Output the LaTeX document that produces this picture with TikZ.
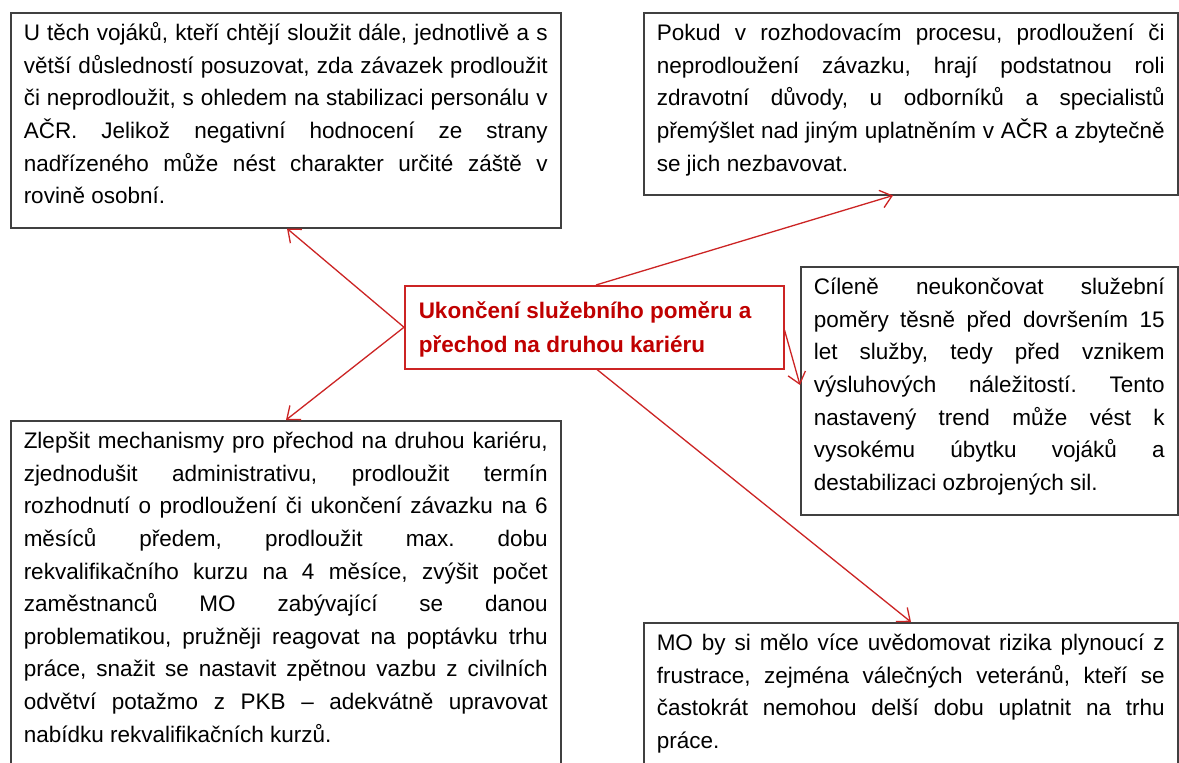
\documentclass[tikz,border=0pt]{standalone}
\usepackage{fontspec}
\setmainfont{Liberation Sans}
\usetikzlibrary{arrows.meta,calc}
\definecolor{boxgray}{HTML}{404040}
\definecolor{linered}{HTML}{CC2424}
\definecolor{textred}{HTML}{C00000}
\frenchspacing
\newcommand\jline[1]{\makebox[\linewidth][s]{\rule{0pt}{21pt}#1}\par}
\newcommand\lline[1]{\makebox[\linewidth][l]{\rule{0pt}{21pt}#1}\par}
\newcommand\boxtext[4]{\parbox[c][#1][t]{#2}{\frenchspacing\lineskiplimit=-100pt\parindent=0pt\parskip=0pt\baselineskip=#3\vspace*{7pt}#4}}
\tikzset{
  tbox/.style={draw=boxgray, line width=1.5pt, fill=white, inner xsep=13pt, inner ysep=0pt,
    anchor=north west, font=\fontsize{22.5}{32.6}\selectfont},
  cbox/.style={draw=linered, line width=1.5pt, fill=white, inner xsep=14pt, inner ysep=0pt,
    anchor=north west, text=textred, font=\bfseries\fontsize{22.5}{34}\selectfont},
  conn/.style={draw=linered, line width=1.3pt, -{Straight Barb[length=11pt,width=18pt]}}
}
\begin{document}
\begin{tikzpicture}[x=1pt,y=1pt]
\useasboundingbox (0,0) rectangle (1179,-763);
\clip (0,0) rectangle (1179,-763);
\fill[white] (0,0) rectangle (1179,-763);

\node[tbox] (b1) at (10,-12) {\boxtext{215pt}{524pt}{32.6pt}{%
\jline{U těch vojáků, kteří chtějí sloužit dále, jednotlivě a s}
\jline{větší důsledností posuzovat, zda závazek prodloužit}
\jline{či neprodloužit, s ohledem na stabilizaci personálu v}
\jline{AČR. Jelikož negativní hodnocení ze strany}
\jline{nadřízeného může nést charakter určité záště v}
\lline{rovině osobní.}}};

\node[tbox] (b2) at (643,-12) {\boxtext{182pt}{508pt}{32.6pt}{%
\jline{Pokud v rozhodovacím procesu, prodloužení či}
\jline{neprodloužení závazku, hrají podstatnou roli}
\jline{zdravotní důvody, u odborníků a specialistů}
\jline{přemýšlet nad jiným uplatněním v AČR a zbytečně}
\lline{se jich nezbavovat.}}};

\node[tbox] (b3) at (800,-266) {\boxtext{248pt}{351pt}{32.6pt}{%
\jline{Cíleně neukončovat služební}
\jline{poměry těsně před dovršením 15}
\jline{let služby, tedy před vznikem}
\jline{výsluhových náležitostí. Tento}
\jline{nastavený trend může vést k}
\jline{vysokému úbytku vojáků a}
\lline{destabilizaci ozbrojených sil.}}};

\node[tbox] (b4) at (10,-420) {\boxtext{370pt}{524pt}{32.6pt}{%
\jline{Zlepšit mechanismy pro přechod na druhou kariéru,}
\jline{zjednodušit administrativu, prodloužit termín}
\jline{rozhodnutí o prodloužení či ukončení závazku na 6}
\jline{měsíců předem, prodloužit max. dobu}
\jline{rekvalifikačního kurzu na 4 měsíce, zvýšit počet}
\jline{zaměstnanců MO zabývající se danou}
\jline{problematikou, pružněji reagovat na poptávku trhu}
\jline{práce, snažit se nastavit zpětnou vazbu z civilních}
\jline{odvětví potažmo z PKB – adekvátně upravovat}
\lline{nabídku rekvalifikačních kurzů.}}};

\node[tbox] (b5) at (643,-622) {\boxtext{170pt}{508pt}{32.6pt}{%
\jline{MO by si mělo více uvědomovat rizika plynoucí z}
\jline{frustrace, zejména válečných veteránů, kteří se}
\jline{častokrát nemohou delší dobu uplatnit na trhu}
\lline{práce.}}};

\node[cbox] (c) at (404,-285) {\boxtext{83pt}{351pt}{34pt}{%
\vspace*{5pt}\lline{Ukončení služebního poměru a}
\lline{přechod na druhou kariéru}}};

\draw[conn] (c.west) -- ($(b1.south west)+(277,0)$);
\draw[conn] (c.west) -- ($(b4.north west)+(276,0)$);
\draw[conn] ($(c.north west)+(192,0)$) -- ($(b2.south west)+(250,0)$);
\draw[conn] ($(c.north east)+(0,-45)$) -- ($(b3.north west)+(0,-119)$);
\draw[conn] ($(c.south west)+(193,0)$) -- ($(b5.north west)+(268,0)$);
\end{tikzpicture}
\end{document}
